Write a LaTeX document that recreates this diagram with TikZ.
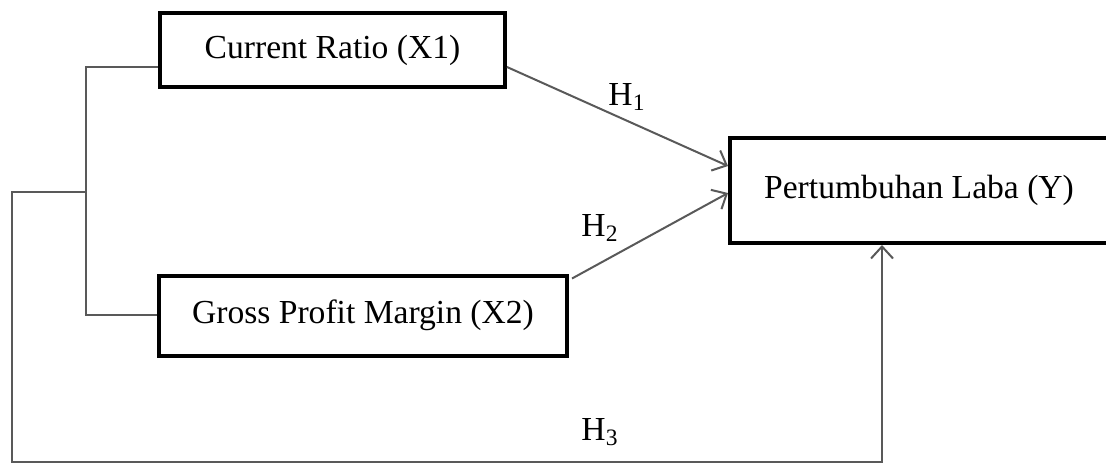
\documentclass[tikz,border=0pt]{standalone}
\usepackage{fontspec}
\setmainfont{Liberation Serif}
\usetikzlibrary{arrows.meta}

\begin{document}
\begin{tikzpicture}[x=0.5pt,y=-0.5pt,
    every node/.style={font=\fontsize{16.8}{20}\selectfont},
    var/.style={draw, line width=2pt, inner sep=0pt},
    link/.style={draw=black!65, line width=1pt},
    hyp/.style={link, -{Straight Barb[length=6pt,width=11pt,line width=1pt]}}]
    \useasboundingbox (0,0) rectangle (1106,463);

    \node (cr) at (332.5,50) [var, minimum width=172.5pt, minimum height=37pt] {Current Ratio (X1)};
    \node (gpm) at (363,315.5) [var, minimum width=204pt, minimum height=40pt] {Gross Profit Margin (X2)};
    \node (py) at (919,190.5) [var, minimum width=189pt, minimum height=52.5pt] {Pertumbuhan Laba (Y)};

    \coordinate (top) at (86,67);
    \coordinate (mid) at (86,192);
    \coordinate (bot) at (86,315);
    \coordinate (h3) at (882,462);

    \draw[link] (cr.west |- top) -- (top) -- (bot) -- (gpm.west |- bot);
    \draw[hyp] (mid) -| (12,462) -- (h3) -- (h3 |- py.south);

    \draw[hyp] (cr.east |- top) -- (py.west |- 0,166);
    \draw[hyp] ([xshift=1.5pt,yshift=-2.5pt]gpm.north east) -- (py.west |- 0,193);

    \node (h1) at (627,97) {H\textsubscript{1}};
    \node (h2) at (600,228) {H\textsubscript{2}};
    \node (h3l) at (600,432) {H\textsubscript{3}};
\end{tikzpicture}
\end{document}
